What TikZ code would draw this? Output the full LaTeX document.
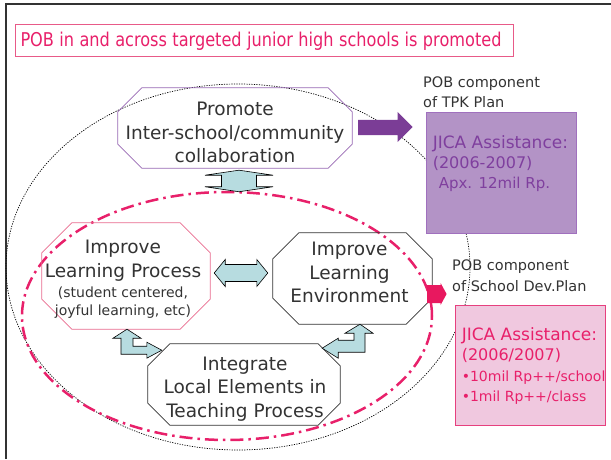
\documentclass[tikz,border=0pt]{standalone}
\usepackage{fontspec}
\setmainfont{DejaVu Sans}
\usetikzlibrary{positioning,calc,shapes.geometric}

\definecolor{pobpink}{HTML}{E8206A}
\definecolor{titleframe}{HTML}{E85A88}
\definecolor{learnframe}{HTML}{E86A8E}
\definecolor{promoteframe}{HTML}{9768B3}
\definecolor{tpkfill}{HTML}{B393C6}
\definecolor{tpkframe}{HTML}{A070BE}
\definecolor{tpktext}{HTML}{7F3F9E}
\definecolor{tpkarrowc}{HTML}{7B3D96}
\definecolor{schoolfill}{HTML}{F0C8DF}
\definecolor{schoolframe}{HTML}{E6407E}
\definecolor{schoolarrowc}{HTML}{E8185F}
\definecolor{arrowblue}{HTML}{B7DCE0}
\definecolor{darktext}{HTML}{333333}

% octagon round a (text-less) node: node, cut, draw options
\newcommand\octframe[3]{%
  \draw[#3] ([xshift=#2]#1.north west) -- ([xshift=-#2]#1.north east)
    -- ([yshift=-#2]#1.north east) -- ([yshift=#2]#1.south east)
    -- ([xshift=-#2]#1.south east) -- ([xshift=#2]#1.south west)
    -- ([yshift=#2]#1.south west) -- ([yshift=-#2]#1.north west) -- cycle;}

\begin{document}
\begin{tikzpicture}[x=1pt,y=1pt]
                    \tikzstyle{octbox}=[rectangle,inner sep=0,draw=none]
                    \tikzstyle{octtext}=[align=center,inner sep=0,text=darktext,font=\fontsize{18.5}{23.5}\selectfont]
                    \tikzstyle{blockarrow}=[fill=arrowblue,draw=black,line width=0.6pt]
                    \tikzstyle{pob}=[anchor=north west,align=left,inner sep=0,text=darktext,font=\fontsize{14.5}{19.5}\selectfont]
                    \tikzstyle{jica}=[anchor=north west,align=left,inner sep=0,font=\fontsize{16}{20}\selectfont]
                    \useasboundingbox (0,0) rectangle (611,459);
                    \draw[line width=2pt,black!80] (6,0) -- (6,455) -- (611,455);

                    \node[draw=titleframe,line width=1pt,anchor=west,text width=488pt,inner xsep=5pt,minimum height=32pt,align=left,text=pobpink,font=\fontsize{19}{22}\selectfont] (title) at (15,418) {\scalebox{0.85}[1]{POB in and across targeted junior high schools is promoted}};

                    % the two rings
                    \node[draw,ellipse,line width=0.7pt,dash pattern=on 1.2pt off 1.3pt,minimum width=464,minimum height=366,inner sep=0] (outer) at (238,192) {};
                    \node[draw=pobpink,ellipse,line width=2.5pt,dash pattern=on 13pt off 5pt on 2.5pt off 5pt,minimum width=410,minimum height=248,inner sep=0] (core) at (227,143) {};

                    % octagons
                    {
                        \node[octbox,minimum width=234,minimum height=80] (promote) at (235,331) {};
                        \octframe{promote}{24}{draw=promoteframe,line width=0.8pt}
                        \node[octtext] at ([yshift=-4.5]promote.center) {Promote\\Inter-school/community\\collaboration};

                        \node[octbox,minimum width=168,minimum height=106] (learn) at (126,183) {};
                        \octframe{learn}{30}{draw=learnframe,line width=0.8pt}
                        \node[octtext] at ([xshift=-3,yshift=-3]learn.center) {Improve\\Learning Process\\[-3.5pt]{\fontsize{14}{18}\selectfont(student centered,}\\[-5.5pt]{\fontsize{14}{18}\selectfont joyful learning, etc)}};

                        \node[octbox,minimum width=159,minimum height=91] (env) at (352.5,180.5) {};
                        \octframe{env}{26}{draw=darktext,line width=0.8pt}
                        \node[octtext] at ([xshift=-3,yshift=6]env.center) {Improve\\Learning\\Environment};

                        \node[octbox,minimum width=192,minimum height=81] (integ) at (244,74.5) {};
                        \octframe{integ}{22}{draw=darktext,line width=0.8pt}
                        \node[octtext] at ([xshift=1,yshift=-4.5]integ.center) {Integrate\\Local Elements in\\Teaching Process};
                    }

                    % plans
                    \node[draw=tpkframe,fill=tpkfill,line width=0.8pt,minimum width=150,minimum height=121,inner sep=0] (tpk) at (501,286.5) {};
                    \node[jica,text=tpktext] at ([xshift=7,yshift=-23.5]tpk.north west) {{\fontsize{17}{20}\selectfont JICA Assistance:}\\(2006-2007)\\{\fontsize{15}{20}\selectfont\hspace{6pt}Apx. 12mil Rp.}};
                    \node[pob] (tpklabel) at (423,382) {POB component\\of TPK Plan};

                    \node[draw=schoolframe,fill=schoolfill,line width=0.8pt,minimum width=150,minimum height=120,inner sep=0] (school) at (530,94) {};
                    \node[jica,text=pobpink] at ([xshift=7,yshift=-23]school.north west) {{\fontsize{17}{20}\selectfont JICA Assistance:}\\(2006/2007)\\[0.5pt]{\fontsize{14}{20}\selectfont •10mil Rp++/school}\\[0.5pt]{\fontsize{14}{20}\selectfont •1mil Rp++/class}};
                    \node[pob,font=\fontsize{14.5}{21}\selectfont] (schoollabel) at (452,199) {POB component\\of School Dev.Plan};

                    % block arrows
                    \fill[tpkarrowc] let \p1=(promote.east), \p2=(tpk.west) in
                        (\x1+6,\y1+8) -- (\x2-28,\y1+8) -- (\x2-28,\y1+16) -- (\x2-13,\y1+1)
                        -- (\x2-28,\y1-14) -- (\x2-28,\y1-7) -- (\x1+6,\y1-7) -- cycle;
                    \fill[schoolarrowc] let \p1=(env.east), \p2=(school.west) in
                        (\x1-5,\y1-6.5) -- (\x2-14,\y1-6.5) -- (\x2-14,\y1-4.5) -- (\x2-8,\y1-15.5)
                        -- (\x2-14,\y1-26.5) -- (\x2-14,\y1-24.5) -- (\x1-5,\y1-24.5) -- cycle;
                    \filldraw[blockarrow] let \p1=(promote.south), \p2=(core.north) in
                        (\x1+4,\y1-2) -- (\x1+38,\y1-7) -- (\x1+21.5,\y1-7) -- (\x1+21.5,\y2+4)
                        -- (\x1+38,\y2+4) -- (\x1+4,\y2-1) -- (\x1-30,\y2+4) -- (\x1-13.5,\y2+4)
                        -- (\x1-13.5,\y1-7) -- (\x1-30,\y1-7) -- cycle;
                    \filldraw[blockarrow] let \p1=(learn.east), \p2=(env.west) in
                        (\x1+4,186) -- (\x1+15,199.5) -- (\x1+15,194.5) -- (\x2-16,194.5)
                        -- (\x2-16,199.5) -- (\x2-5,186) -- (\x2-16,172.5) -- (\x2-16,177.5)
                        -- (\x1+15,177.5) -- (\x1+15,172.5) -- cycle;
                    \filldraw[blockarrow] let \p1=(learn.south), \p2=(integ.west) in
                        (\x1+1,\y1) -- (\x1+15,\y1-9) -- (\x1+7,\y1-9) -- (\x1+7,\y1-17)
                        -- (\x2-1,\y1-17) -- (\x2-1,\y1-13) -- (\x2+14,\y1-21) -- (\x2-1,\y1-29)
                        -- (\x2-1,\y1-25) -- (\x1-5,\y1-25) -- (\x1-5,\y1-9) -- (\x1-13,\y1-9) -- cycle;
                    \filldraw[blockarrow] let \p1=(env.south), \p2=(integ.east) in
                        (\x1+7.5,\y1) -- (\x1+20.5,\y1-9) -- (\x1+12.5,\y1-9) -- (\x1+12.5,\y1-28)
                        -- (\x2-2,\y1-28) -- (\x2-2,\y1-34) -- (\x2-18,\y1-24) -- (\x2-2,\y1-14)
                        -- (\x2-2,\y1-16) -- (\x1+1.5,\y1-16) -- (\x1+1.5,\y1-9) -- (\x1-7.5,\y1-9) -- cycle;
                \end{tikzpicture}
\end{document}
